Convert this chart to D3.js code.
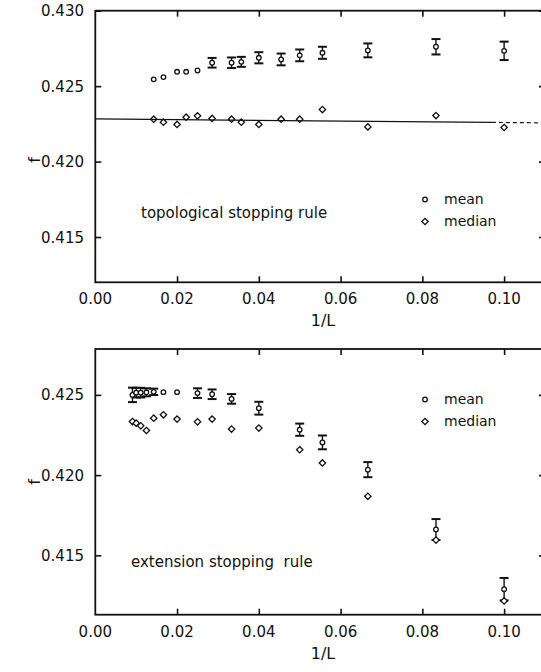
<!DOCTYPE html>
<html>
<head>
<meta charset="utf-8">
<script src="https://cdn.jsdelivr.net/npm/d3@7"></script>
<style>
  html, body { margin: 0; padding: 0; background: #fff; }
  svg text { font-family: "DejaVu Sans", sans-serif; fill: #111; }
</style>
</head>
<body>
<svg id="chart" width="541" height="672"></svg>
<script>
// ---------- data ----------
const xTicks = [0.00, 0.02, 0.04, 0.06, 0.08, 0.10];
const yTicksTop = [0.415, 0.420, 0.425, 0.430];
const yTicksBot = [0.415, 0.420, 0.425];

// topological stopping rule
const L_top = [70, 60, 50, 45, 40, 35, 30, 28, 25, 22, 20, 18, 15, 12, 10];
const meanTop = [0.42545, 0.42560, 0.42595, 0.42595, 0.42604, 0.42655, 0.42655, 0.42661, 0.42688, 0.42677, 0.42704, 0.42721, 0.42737, 0.42761, 0.42734];
const errTop = [0, 0, 0, 0, 0, 0.00032, 0.00035, 0.00033, 0.00037, 0.00039, 0.00039, 0.00040, 0.00046, 0.00051, 0.00061];
const medianTop = [0.42281, 0.42261, 0.42246, 0.42294, 0.42303, 0.42286, 0.42281, 0.42261, 0.42246, 0.42281, 0.42281, 0.42345, 0.42230, 0.42305, 0.42226];
const fitIntercept = 0.42283;
const fitSlope = -0.0024;

// extension stopping rule
const L_bot = [110, 100, 90, 80, 70, 60, 50, 40, 35, 30, 25, 20, 18, 15, 12, 10];
const meanBot = [0.42500, 0.42514, 0.42514, 0.42516, 0.42519, 0.42517, 0.42517, 0.42511, 0.42504, 0.42475, 0.42417, 0.42283, 0.42204, 0.42034, 0.41661, 0.41289];
const errBot = [0.00045, 0.00030, 0.00030, 0.00025, 0.00020, 0, 0, 0.00030, 0.00030, 0.00030, 0.00040, 0.00038, 0.00043, 0.00047, 0.00065, 0.00070];
const medianBot = [0.42334, 0.42324, 0.42307, 0.42278, 0.42355, 0.42376, 0.42349, 0.42332, 0.42349, 0.42287, 0.42293, 0.42158, 0.42076, 0.41868, 0.41595, 0.41216];

// ---------- drawing ----------
const svg = d3.select("#chart");
const fmtX = d3.format(".2f");
const fmtY = d3.format(".3f");

const xScale = d3.scaleLinear().domain([0, 0.11]).range([95.3, 545]);

function panel(cfg) {
  const x = xScale;
  const y = d3.scaleLinear().domain(cfg.yDomain).range(cfg.yRange);
  const g = svg.append("g");
  const [yb, yt] = cfg.yRange;

  // inward ticks
  g.append("g").attr("transform", `translate(0,${yb})`)
    .call(d3.axisTop(x).tickValues(xTicks.slice(1)).tickSize(6).tickFormat(""))
    .call(a => a.select(".domain").remove());
  g.append("g").attr("transform", `translate(0,${yt})`)
    .call(d3.axisBottom(x).tickValues(xTicks.slice(1)).tickSize(6).tickFormat(""))
    .call(a => a.select(".domain").remove());
  g.append("g").attr("transform", `translate(${x.range()[0]},0)`)
    .call(d3.axisRight(y).tickValues(cfg.yTicks).tickSize(6).tickFormat(""))
    .call(a => a.select(".domain").remove());
  g.append("g").attr("transform", `translate(${x.range()[1]},0)`)
    .call(d3.axisLeft(y).tickValues(cfg.yTicks).tickSize(6).tickFormat(""))
    .call(a => a.select(".domain").remove());
  g.selectAll(".tick line").attr("stroke", "#111").attr("stroke-width", 1.6);

  // frame
  g.append("rect")
    .attr("x", x.range()[0]).attr("y", yt)
    .attr("width", x.range()[1] - x.range()[0]).attr("height", yb - yt)
    .attr("fill", "none").attr("stroke", "#111").attr("stroke-width", 1.8);

  // tick labels
  g.selectAll(".xl").data(xTicks).enter().append("text")
    .attr("x", d => x(d)).attr("y", yb + 22)
    .attr("text-anchor", "middle").attr("font-size", 15)
    .text(d => fmtX(d));
  g.selectAll(".yl").data(cfg.yTicks).enter().append("text")
    .attr("x", 84).attr("y", d => y(d) + 5.5)
    .attr("text-anchor", "end").attr("font-size", 15)
    .text(d => fmtY(d));

  // axis titles
  g.append("text").attr("x", 323).attr("y", yb + 44)
    .attr("text-anchor", "middle").attr("font-size", 16).text("1/L");
  g.append("text")
    .attr("transform", `translate(40,${cfg.fY}) rotate(-90)`)
    .attr("text-anchor", "middle").attr("font-size", 16).text("f");

  const pts = cfg.L.map((L, i) => ({ x: 1 / L, mean: cfg.mean[i], err: cfg.err[i], median: cfg.median[i] }));

  // error bars
  const eb = g.append("g").attr("stroke", "#111");
  pts.filter(p => p.err > 0).forEach(p => {
    const cx = x(p.x);
    eb.append("line").attr("x1", cx).attr("x2", cx)
      .attr("y1", y(p.mean - p.err)).attr("y2", y(p.mean + p.err)).attr("stroke-width", 1.4);
    [p.mean - p.err, p.mean + p.err].forEach(v => {
      eb.append("line").attr("x1", cx - 4.5).attr("x2", cx + 4.5)
        .attr("y1", y(v)).attr("y2", y(v)).attr("stroke-width", 2);
    });
  });

  // mean circles
  g.selectAll(".mc").data(pts).enter().append("circle")
    .attr("cx", d => x(d.x)).attr("cy", d => y(d.mean)).attr("r", 2.3)
    .attr("fill", "#fff").attr("stroke", "#111").attr("stroke-width", 1.3);

  // median diamonds
  const dia = d3.symbol().type(d3.symbolDiamond2).size(26);
  g.selectAll(".md").data(pts).enter().append("path")
    .attr("transform", d => `translate(${x(d.x)},${y(d.median)})`)
    .attr("d", dia).attr("fill", "#fff").attr("stroke", "#111").attr("stroke-width", 1.3);

  // legend
  const lx = 425;
  g.append("circle").attr("cx", lx).attr("cy", cfg.legY).attr("r", 2.3)
    .attr("fill", "#fff").attr("stroke", "#111").attr("stroke-width", 1.3);
  g.append("text").attr("x", lx + 19).attr("y", cfg.legY + 4.5).attr("font-size", 14).text("mean");
  g.append("path").attr("transform", `translate(${lx},${cfg.legY + 22})`)
    .attr("d", dia).attr("fill", "#fff").attr("stroke", "#111").attr("stroke-width", 1.3);
  g.append("text").attr("x", lx + 19).attr("y", cfg.legY + 26.5).attr("font-size", 14).text("median");

  // panel label
  g.append("text").attr("x", cfg.labX).attr("y", cfg.labY).attr("font-size", 15)
    .attr("xml:space", "preserve").text(cfg.label);

  return { g, y };
}

const topPanel = panel({
  yDomain: [0.412, 0.430], yRange: [282.3, 10.7], yTicks: yTicksTop,
  L: L_top, mean: meanTop, err: errTop, median: medianTop,
  fY: 160, legY: 199.5, labX: 141, labY: 218, label: "topological stopping rule"
});

// fitted line for the median (solid, then dashed extrapolation)
const fitLine = d3.line().x(d => xScale(d)).y(d => topPanel.y(fitIntercept + fitSlope * d));
topPanel.g.append("path").attr("d", fitLine([0, 0.097]))
  .attr("fill", "none").attr("stroke", "#111").attr("stroke-width", 1.2);
topPanel.g.append("path").attr("d", fitLine([0.097, 0.11]))
  .attr("fill", "none").attr("stroke", "#111").attr("stroke-width", 1.2)
  .attr("stroke-dasharray", "4,3");

panel({
  yDomain: [0.4113, 0.42786], yRange: [614.7, 349], yTicks: yTicksBot,
  L: L_bot, mean: meanBot, err: errBot, median: medianBot,
  fY: 482, legY: 399.5, labX: 131, labY: 567, label: "extension stopping  rule"
});
</script>
</body>
</html>
